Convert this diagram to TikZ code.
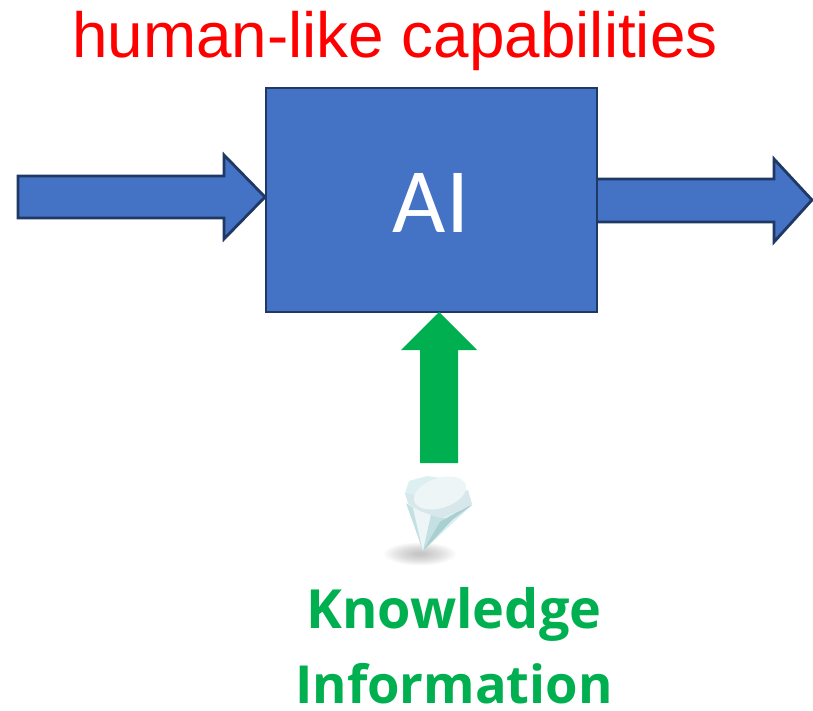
\documentclass[tikz,border=0pt]{standalone}
\usepackage{fontspec}
\setmainfont{Liberation Sans}
\newfontfamily\carlitofont{Carlito}
\newfontfamily\openfont{Open Sans}
\definecolor{boxblue}{HTML}{4472C4}
\definecolor{boxedge}{HTML}{1F3864}
\definecolor{kgreen}{HTML}{00B050}
\definecolor{gemtable}{HTML}{EDF5F7}
\definecolor{gemcrown}{HTML}{D8E7EB}
\definecolor{gemlight}{HTML}{DCEFF1}
\definecolor{gemmid}{HTML}{C3E0E3}
\definecolor{gemdark}{HTML}{A9CFD0}
\tikzset{
  blockshape/.style={fill=boxblue,draw=boxedge,line width=2.8pt,line join=miter},
  greenarrow/.style={fill=kgreen,draw=none},
  knowtext/.style={text=kgreen,font=\openfont\bfseries\fontsize{52.5}{52.5}\selectfont,inner sep=0pt},
  facet/.style={draw=none},
}
\begin{document}
\begin{tikzpicture}[x=1pt,y=-1pt]
\useasboundingbox (0,0) rectangle (813,711);
% arrows
\draw[blockshape] (18,176) -- (224,176) -- (224,155) -- (265,197) -- (224,239) -- (224,218) -- (18,218) -- cycle;
\draw[blockshape] (597,179) -- (774,179) -- (774,159) -- (812,200) -- (774,242) -- (774,222) -- (597,222);
\fill[boxblue] (597,181) rectangle (600,220);
% box
\node[blockshape,minimum width=331pt,minimum height=224pt,inner sep=0pt,outer sep=0pt,anchor=north west] (ai) at (266,88) {};
\node[text=white,font=\carlitofont\fontsize{92}{92}\selectfont,inner sep=0pt] (ailabel) at (431,203) {AI};
% green arrow
\fill[greenarrow] (420,463) -- (420,350) -- (401,350) -- (439,312) -- (477,350) -- (458,350) -- (458,463) -- cycle;
% title
\node[text=red,font=\fontsize{63.8}{63.8}\selectfont,inner sep=0pt] (title) at (395,41) {human-like capabilities};
% gem shadow
\foreach \r in {36,34,...,6}
  \fill[black,opacity=.016] (420,554) ellipse ({\r pt} and {\r*0.32 pt});
% gem
\fill[facet,fill=gemlight] (405,493) -- (409,481) -- (427,476) -- (455,480) -- (468,493) -- (472,505) -- (423,551) -- cycle;
\fill[facet,fill=gemmid] (406,503) -- (423,551) -- (413,508) -- cycle;
\fill[facet,fill=gemtable] (413,508) -- (423,551) -- (431,515) -- cycle;
\fill[facet,fill=gemmid] (431,515) -- (423,551) -- (452,520) -- cycle;
\fill[facet,fill=gemdark] (423,551) -- (452,520) -- (472,505) -- (466,507) -- (440,522) -- cycle;
\fill[facet,fill=gemcrown] (405,493) -- (408,503) -- (420,511) -- (440,518) -- (462,510) -- (472,504) -- (468,490) -- (440,500) -- cycle;
\fill[facet,fill=gemtable,rotate around={18:(440,493)}] (440,493) ellipse (27pt and 15pt);
% labels
\node[knowtext,font=\openfont\bfseries\fontsize{54}{54}\selectfont] (know) at (454,614) {Knowledge};
\node[knowtext] (info) at (454,684) {Information};
\end{tikzpicture}
\end{document}
